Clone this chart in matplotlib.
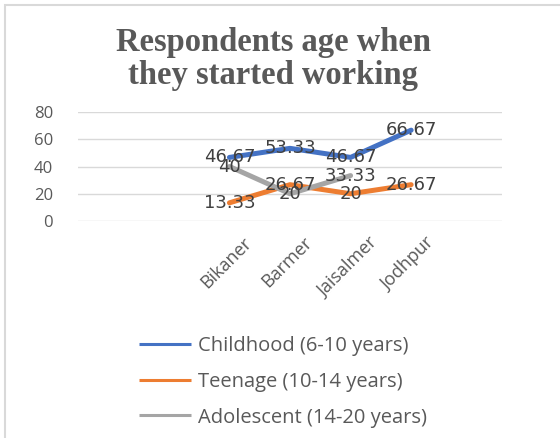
import numpy as np
import matplotlib
matplotlib.use('Agg')
import matplotlib.pyplot as plt
from matplotlib.patches import Rectangle

# chart data
districts = ['Bikaner', 'Barmer', 'Jaisalmer', 'Jodhpur']
childhood = [46.67, 53.33, 46.67, 66.67]
teenage = [13.33, 26.67, 20, 26.67]
adolescent = [40, 20, 33.33, np.nan]
y_ticks = [0, 20, 40, 60, 80]

series = [
    ('Childhood (6-10 years)', childhood, '#4472C4'),
    ('Teenage (10-14 years)', teenage, '#ED7D31'),
    ('Adolescent (14-20 years)', adolescent, '#A5A5A5'),
]

# the category axis has empty slots, the districts sit in slots 2..5
x = np.arange(len(districts)) + 2

fig = plt.figure(figsize=(5.6, 4.38), dpi=100)
W, H = 560, 438
ax = fig.add_axes([78 / W, 1 - 221 / H, (502 - 78) / W, (221 - 112) / H])

# outer chart border
fig.patches.append(Rectangle((5 / W, -0.1), 1.2, 1 - 5 / H + 0.1, transform=fig.transFigure,
                             fill=False, edgecolor='#d9d9d9', linewidth=1.5))

handles = []
for label, vals, color in series:
    line, = ax.plot(x, vals, color=color, linewidth=3.6, solid_capstyle='round',
                    solid_joinstyle='round', label=label)
    handles.append(line)

for label, vals, color in series:
    for xi, v in zip(x, vals):
        if np.isnan(v):
            continue
        ax.text(xi, v, f'{v:g}', ha='center', va='center', fontsize=13,
                color='#404040', family='DejaVu Sans', zorder=5)

ax.set_xlim(-0.5, 6.5)
ax.set_ylim(0, 80)
ax.set_yticks(y_ticks)
ax.yaxis.grid(True, color='#d9d9d9', linewidth=1)
ax.set_axisbelow(True)
for s in ax.spines.values():
    s.set_visible(False)
ax.tick_params(length=0)
ax.tick_params(axis='y', pad=18, labelsize=12, labelcolor='#595959')
ax.set_yticklabels([str(t) for t in y_ticks], family='Open Sans')
ax.set_xticks(x - 0.05)
ax.set_xticklabels(districts, rotation=45, ha='center', family='Open Sans',
                   fontsize=13, color='#595959')
ax.tick_params(axis='x', pad=9)

fig.text(273 / W, 1 - 59 / H, 'Respondents age when\nthey started working', ha='center',
         va='center', fontsize=23.5, fontweight='bold', family='Liberation Serif',
         color='#595959', linespacing=1.05)

leg = fig.legend(handles=handles, loc='upper left', bbox_to_anchor=(121 / W, 1 - 318 / H),
                 frameon=False, handlelength=2.6, handletextpad=0.3, labelspacing=0.78,
                 prop={'family': 'Open Sans', 'size': 14.5})
for t in leg.get_texts():
    t.set_color('#595959')
for h in leg.get_lines():
    h.set_linewidth(2.2)
    h.set_solid_capstyle('butt')

fig.savefig('out.png', dpi=100)
